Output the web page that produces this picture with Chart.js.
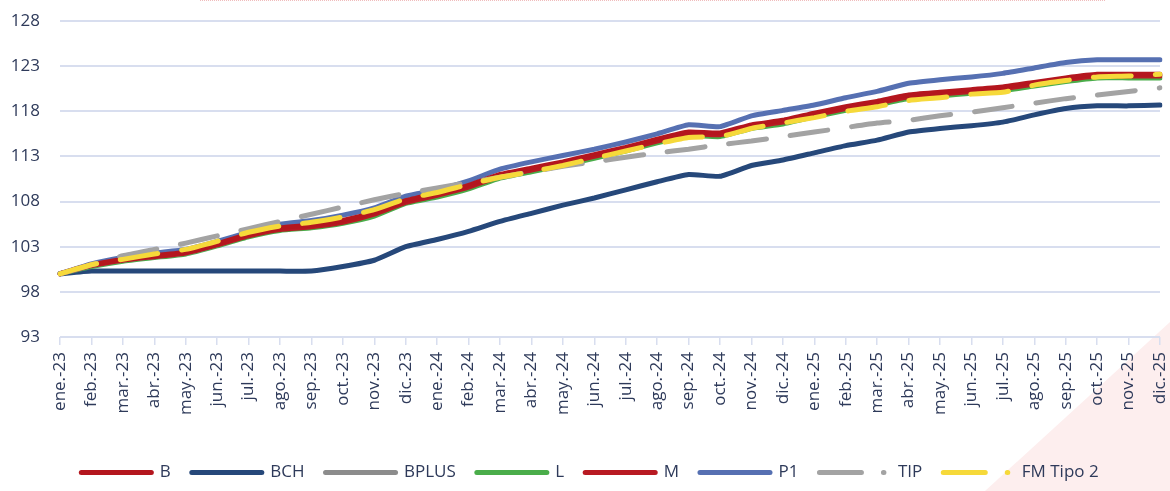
<!DOCTYPE html>
<html>
<head>
<meta charset="utf-8">
<script src="https://cdn.jsdelivr.net/npm/chart.js@4"></script>
<style>
  html, body { margin: 0; padding: 0; background: #fff; }
  #wrap { position: relative; width: 1170px; height: 491px; overflow: hidden; }
  /* faint watermark in the corner and dotted title border, behind the chart */
  #mark { position: absolute; left: 0; top: 0; width: 1170px; height: 491px;
    background: #fdeeee; clip-path: polygon(985px 491px, 1170px 322px, 1170px 491px); }
  #topline { position: absolute; left: 200px; top: 0; width: 905px; height: 0;
    border-top: 1px dotted #f0bcbc; }
  canvas { position: absolute; left: 0; top: 0; }
</style>
</head>
<body>
<div id="wrap">
  <div id="mark"></div>
  <div id="topline"></div>
  <canvas id="chart" width="1170" height="491"></canvas>
</div>
<script>
const months = [
  "ene.-23", "feb.-23", "mar.-23", "abr.-23", "may.-23", "jun.-23", "jul.-23", "ago.-23", "sep.-23", "oct.-23", "nov.-23", "dic.-23",
  "ene.-24", "feb.-24", "mar.-24", "abr.-24", "may.-24", "jun.-24", "jul.-24", "ago.-24", "sep.-24", "oct.-24", "nov.-24", "dic.-24",
  "ene.-25", "feb.-25", "mar.-25", "abr.-25", "may.-25", "jun.-25", "jul.-25", "ago.-25", "sep.-25", "oct.-25", "nov.-25", "dic.-25"
];

const B = [100, 101.0, 101.6, 102.0, 102.4, 103.3, 104.4, 105.1, 105.4, 105.9, 106.8, 108.1,
  108.9, 109.8, 111.0, 111.7, 112.4, 113.2, 114.0, 114.9, 115.7, 115.6, 116.5, 117.0,
  117.8, 118.5, 119.1, 119.8, 120.1, 120.4, 120.7, 121.2, 121.7, 122.1, 122.1, 122.1];
const BCH = [100, 100.3, 100.3, 100.3, 100.3, 100.3, 100.3, 100.3, 100.3, 100.8, 101.5, 103.0,
  103.8, 104.7, 105.8, 106.7, 107.6, 108.4, 109.3, 110.2, 111.0, 110.8, 112.0, 112.6,
  113.4, 114.2, 114.8, 115.7, 116.1, 116.4, 116.8, 117.6, 118.3, 118.6, 118.6, 118.7];
const BPLUS = [100, 100.9, 101.5, 101.9, 102.3, 103.2, 104.3, 105.0, 105.3, 105.8, 106.7, 108.0,
  108.8, 109.7, 110.9, 111.6, 112.3, 113.1, 113.9, 114.8, 115.6, 115.5, 116.4, 116.9,
  117.7, 118.4, 119.0, 119.7, 120.0, 120.3, 120.6, 121.1, 121.6, 122.0, 122.0, 122.0];
const L = [100, 100.8, 101.4, 101.8, 102.2, 103.1, 104.1, 104.8, 105.1, 105.6, 106.4, 107.8,
  108.5, 109.4, 110.6, 111.3, 112.0, 112.8, 113.6, 114.5, 115.3, 115.2, 116.1, 116.6,
  117.4, 118.1, 118.7, 119.4, 119.7, 120.0, 120.3, 120.8, 121.3, 121.7, 121.7, 121.7];
const M = [100, 100.9, 101.5, 101.9, 102.3, 103.2, 104.2, 104.9, 105.2, 105.7, 106.6, 107.9,
  108.7, 109.6, 110.8, 111.5, 112.2, 113.0, 113.8, 114.7, 115.5, 115.4, 116.3, 116.8,
  117.6, 118.3, 118.9, 119.6, 119.9, 120.2, 120.5, 121.0, 121.5, 121.9, 121.9, 121.9];
const P1 = [100, 101.1, 101.8, 102.3, 102.7, 103.6, 104.6, 105.5, 105.9, 106.5, 107.3, 108.6,
  109.3, 110.3, 111.6, 112.4, 113.1, 113.8, 114.6, 115.5, 116.5, 116.3, 117.5, 118.1,
  118.7, 119.5, 120.2, 121.1, 121.5, 121.8, 122.2, 122.8, 123.4, 123.7, 123.7, 123.7];
const TIP = [100, 101.0, 102.0, 102.7, 103.4, 104.2, 105.0, 105.8, 106.6, 107.4, 108.2, 108.9,
  109.5, 110.1, 110.7, 111.3, 111.9, 112.4, 112.9, 113.4, 113.8, 114.3, 114.7, 115.2,
  115.7, 116.2, 116.7, 117.0, 117.5, 117.9, 118.4, 118.9, 119.4, 119.8, 120.2, 120.6];
const FM2 = [100, 101.0, 101.6, 102.2, 102.7, 103.6, 104.6, 105.3, 105.7, 106.3, 107.1, 108.3,
  109.0, 109.9, 110.7, 111.3, 112.0, 112.8, 113.6, 114.4, 115.1, 115.2, 116.1, 116.7,
  117.3, 118.0, 118.5, 119.2, 119.5, 119.9, 120.1, 120.9, 121.4, 121.8, 121.9, 122.1];

const yTicks = [93, 98, 103, 108, 113, 118, 123, 128];

const textColor = "#2e3a5a";
const gridColor = "#d8deef";
const dashChart = [38, 24];
const dashLegend = [42, 22, 0.5, 200];

function line(label, data, color, order, dashed) {
  return {
    label: label,
    data: data,
    borderColor: color,
    backgroundColor: color,
    borderWidth: 5,
    borderCapStyle: "round",
    borderJoinStyle: "round",
    borderDash: dashed ? dashChart : [],
    pointRadius: 0,
    pointHoverRadius: 0,
    tension: 0.15,
    fill: false,
    order: order,
    isDashed: !!dashed
  };
}

// nudge the legend row a little to the right, like the original
const shiftLegend = {
  id: "shiftLegend",
  afterLayout(chart) {
    if (chart.legend) {
      chart.legend.left += 10;
      chart.legend.right += 10;
    }
  }
};

new Chart(document.getElementById("chart"), {
  type: "line",
  data: {
    labels: months,
    datasets: [
      line("B", B, "#b4161e", 2),
      line("BCH", BCH, "#26487a", 7),
      line("BPLUS", BPLUS, "#8c8c8c", 4),
      line("L", L, "#4aad4a", 5),
      line("M", M, "#b81a22", 3),
      line("P1", P1, "#5670b2", 6),
      line("TIP", TIP, "#a3a3a3", 1, true),
      line("FM Tipo 2", FM2, "#f6d93a", 0, true)
    ]
  },
  plugins: [shiftLegend],
  options: {
    responsive: false,
    animation: false,
    devicePixelRatio: 1,
    layout: { padding: { top: 21, right: 10, left: 0, bottom: 0 } },
    plugins: {
      tooltip: { enabled: false },
      legend: {
        position: "bottom",
        labels: {
          color: textColor,
          font: { family: "'Open Sans'", size: 17 },
          usePointStyle: true,
          pointStyle: "line",
          pointStyleWidth: 70,
          boxHeight: 5,
          padding: 21,
          sort: (a, b) => a.datasetIndex - b.datasetIndex,
          generateLabels: (chart) => {
            const items = Chart.defaults.plugins.legend.labels.generateLabels(chart);
            items.forEach((it) => {
              const ds = chart.data.datasets[it.datasetIndex];
              it.pointStyle = "line";
              it.lineWidth = 5;
              it.lineCap = "round";
              it.lineDash = ds.isDashed ? dashLegend : [];
              it.lineDashOffset = 0;
            });
            return items;
          }
        }
      }
    },
    scales: {
      x: {
        grid: { drawOnChartArea: false, color: gridColor, lineWidth: 1.5, tickLength: 8 },
        border: { display: false },
        ticks: {
          color: textColor,
          font: { family: "'Open Sans'", size: 17 },
          autoSkip: false,
          maxRotation: 90,
          minRotation: 90,
          padding: 7
        },
        afterFit: (scale) => {
          scale.height = 106;
          scale.paddingLeft = 0;
          scale.paddingRight = 0;
        }
      },
      y: {
        min: 93,
        max: 128,
        afterBuildTicks: (scale) => { scale.ticks = yTicks.map((v) => ({ value: v })); },
        grid: { color: gridColor, lineWidth: 2, drawTicks: false },
        border: { display: false },
        ticks: {
          color: textColor,
          font: { family: "'Open Sans'", size: 17 },
          padding: 20
        },
        afterFit: (scale) => {
          scale.width = 60;
          scale.paddingTop = 0;
          scale.paddingBottom = 0;
        }
      }
    }
  }
});
</script>
</body>
</html>
